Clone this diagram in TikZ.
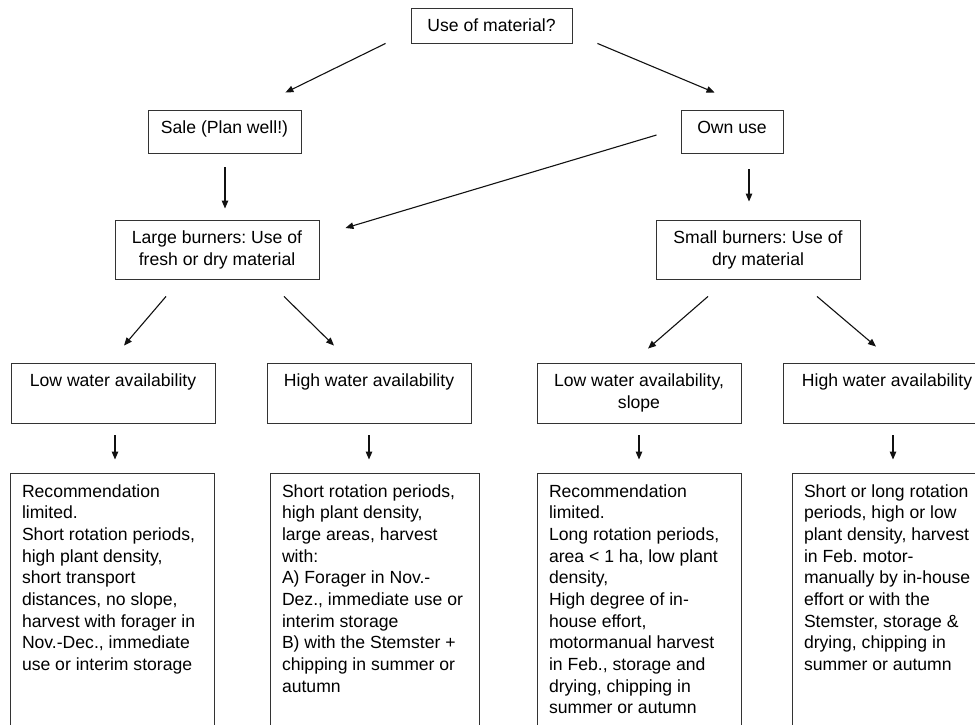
\documentclass[tikz,border=0pt]{standalone}
\usepackage{fontspec}
\setmainfont{Liberation Sans}
\usepackage{tikz}
\usetikzlibrary{positioning,calc,arrows.meta}
\frenchspacing
\definecolor{ink}  {HTML}{111111}
\definecolor{frame}{HTML}{333333}
% top aligned text, centred or flush left
\newcommand{\ctext}[3]{\parbox[t][#2][t]{#1}{\centering\rule{0pt}{24pt}#3}}
\newcommand{\ltext}[3]{\parbox[t][#2][t]{#1}{\raggedright\leftskip=12pt\rule{0pt}{24pt}#3}}
\tikzset{
  x=1pt, y=1pt,
  every node/.style={font=\fontsize{17.6}{21.7}\selectfont},
  % --- nodes
  box/.style = {draw=frame, line width=0.9pt, inner sep=0pt},
  % --- edges
  e/.style   = {-{Triangle[length=8pt,width=6.5pt]}, line width=1.1pt, draw=ink},
}
\begin{document}
\begin{tikzpicture}
  \useasboundingbox (0,0) rectangle (975,724);
  \clip (0,0) rectangle (975,724);

  \node[box] (use)   at (491.5,698.5) {\ctext{161pt}{35pt}{Use of material?}};
  \node[box] (sale)  at (224.5,592.5) {\ctext{153pt}{43pt}{Sale (Plan well!)}};
  \node[box] (own)   at (732,592.5)   {\ctext{102pt}{43pt}{Own use}};
  \node[box] (large) at (217,474.5)   {\ctext{204pt}{59pt}{Large burners: Use of\\fresh or dry material}};
  \node[box] (small) at (758,474.5)   {\ctext{204pt}{59pt}{Small burners: Use of\\dry material}};

  \node[box] (lowA)  at (113,331) {\ctext{204pt}{60pt}{Low water availability}};
  \node[box] (highA) at (369,331) {\ctext{204pt}{60pt}{High water availability}};
  \node[box] (lowB)  at (639,331) {\ctext{204pt}{60pt}{Low water availability,\\slope}};
  \node[box] (highB) at (887,331) {\ctext{208pt}{60pt}{High water availability}};

  \node[box] (recA) at (112,116) {\ltext{204pt}{270pt}{Recommendation\\limited.\\
    Short rotation periods,\\high plant density,\\short transport\\distances, no slope,\\
    harvest with forager in\\Nov.-Dec., immediate\\use or interim storage}};
  \node[box] (recB) at (374.5,116) {\ltext{209pt}{270pt}{Short rotation periods,\\high plant density,\\
    large areas, harvest\\with:\\A) Forager in Nov.-\\Dez., immediate use or\\interim storage\\
    B) with the Stemster +\\chipping in summer or\\autumn}};
  \node[box] (recC) at (639,116) {\ltext{204pt}{270pt}{Recommendation\\limited.\\
    Long rotation periods,\\area < 1 ha, low plant\\density,\\High degree of in-\\house effort,\\
    motormanual harvest\\in Feb., storage and\\drying, chipping in\\summer or autumn}};
  \node[box] (recD) at (896.5,116) {\ltext{209pt}{270pt}{Short or long rotation\\periods, high or low\\
    plant density, harvest\\in Feb. motor-\\manually by in-house\\effort or with the\\
    Stemster, storage \&\\drying, chipping in\\summer or autumn}};

  \draw[e] ([xshift=-25pt]use.south west) -- ([shift={(-16pt,17pt)}]sale.north east);
  \draw[e] ([xshift=25pt]use.south east) -- ([shift={(34pt,17pt)}]own.north west);
  \draw[e] ([shift={(0.5pt,-14pt)}]sale.south) -- ($(sale.south |- large.north)+(0.5,11)$);
  \draw[e] ([shift={(-24pt,-3.5pt)}]own.west) -- ([shift={(26pt,21.5pt)}]large.east);
  \draw[e] ([shift={(17pt,-16pt)}]own.south) -- ($(own.south |- small.north)+(17,18)$);

  \draw[e] ([shift={(-51pt,-17pt)}]large.south) -- ([shift={(11pt,17pt)}]lowA.north);
  \draw[e] ([shift={(67pt,-17pt)}]large.south) -- ([shift={(-35pt,17pt)}]highA.north);
  \draw[e] ([shift={(-50pt,-17pt)}]small.south) -- ([shift={(9pt,14pt)}]lowB.north);
  \draw[e] ([shift={(59pt,-17pt)}]small.south) -- ([shift={(-11pt,16pt)}]highB.north);

  \draw[e] ([shift={(2pt,-12pt)}]lowA.south) -- ($(lowA.south |- recA.north)+(2,13)$);
  \draw[e] ([yshift=-12pt]highA.south) -- ($(highA.south |- recB.north)+(0,13)$);
  \draw[e] ([yshift=-12pt]lowB.south) -- ($(lowB.south |- recC.north)+(0,13)$);
  \draw[e] ([shift={(6pt,-12pt)}]highB.south) -- ($(highB.south |- recD.north)+(6,13)$);
\end{tikzpicture}
\end{document}
